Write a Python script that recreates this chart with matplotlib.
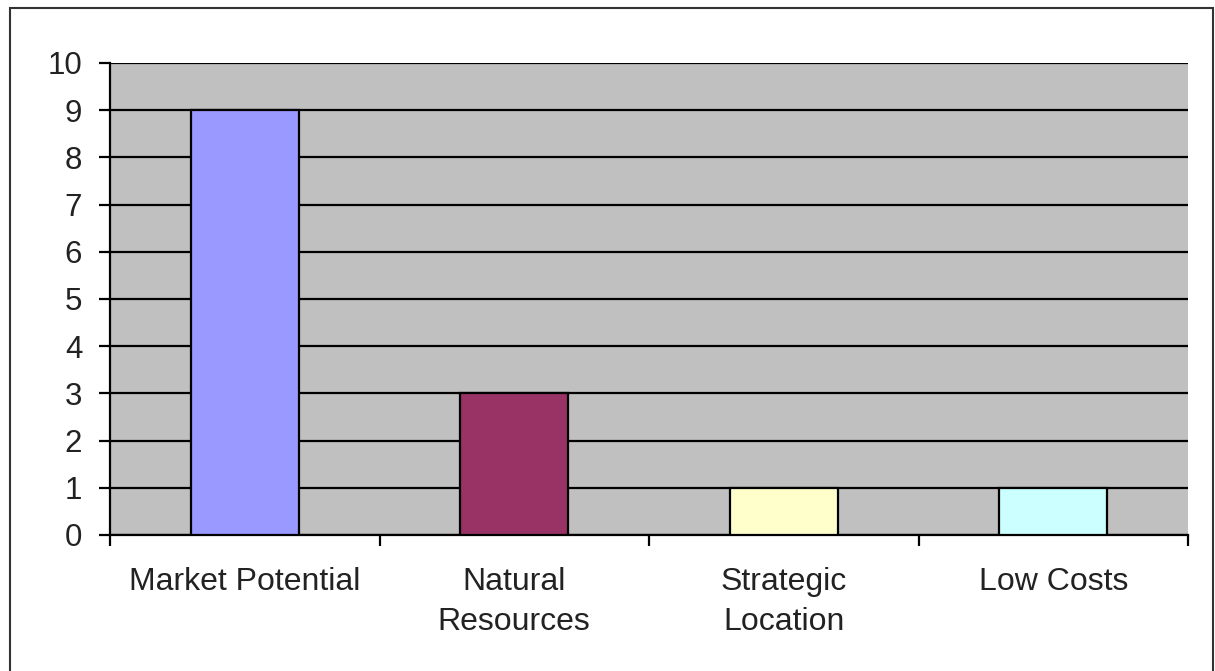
import matplotlib
matplotlib.use("Agg")
import matplotlib.pyplot as plt
from matplotlib.patches import Rectangle

categories = ["Market Potential", "Natural\nResources", "Strategic\nLocation", "Low Costs"]
values = [9, 3, 1, 1]
colors = ["#9999FF", "#993366", "#FFFFCC", "#CCFFFF"]
yticks = list(range(0, 11))

W, H = 1215, 671
fig = plt.figure(figsize=(W / 100, H / 100), dpi=100)
plt.rcParams['font.family'] = ['Liberation Sans', 'DejaVu Sans']

# outer frame
fig.patches.append(Rectangle((10 / W, -0.1), (1213 - 10) / W, 1.1 - 8 / H,
                             transform=fig.transFigure, fill=False,
                             edgecolor="#333333", linewidth=1.5))

ax = fig.add_axes([110 / W, 1 - 535 / H, (1188 - 110) / W, (535 - 63) / H])
ax.set_facecolor("#C0C0C0")
x = list(range(len(categories)))
ax.set_axisbelow(True)
ax.yaxis.grid(True, color="black", linewidth=1.6)
ax.bar(x, values, width=0.4, color=colors, edgecolor="black", linewidth=1.6, zorder=3)

ax.set_xlim(-0.5, len(categories) - 0.5)
ax.set_ylim(0, 10)
ax.set_yticks(yticks)
ax.set_yticklabels([str(v) for v in yticks], fontsize=22.5, color="#222222")
ax.tick_params(axis="y", length=8, width=1.6, pad=12, direction="out")

ax.set_xticks(x)
ax.set_xticklabels(categories, fontsize=23, color="#222222", linespacing=1.42)
ax.set_xticks([i - 0.5 for i in range(len(categories) + 1)], minor=True)
ax.tick_params(axis="x", which="major", length=0, pad=23)
ax.tick_params(axis="x", which="minor", length=8, width=1.6, direction="out")

for s in ["top", "right"]:
    ax.spines[s].set_visible(False)
ax.spines["left"].set_linewidth(1.6)
ax.spines["bottom"].set_linewidth(1.6)

fig.savefig("out.png", dpi=100)
